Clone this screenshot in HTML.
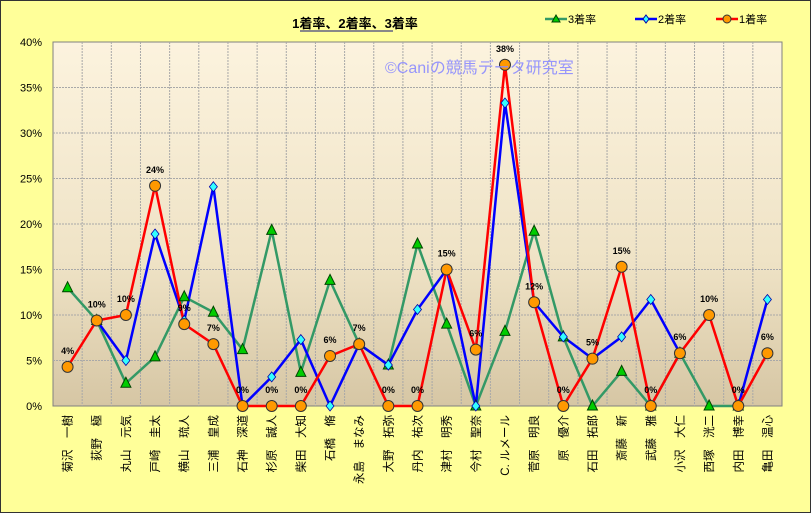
<!DOCTYPE html>
<html><head><meta charset="utf-8"><style>
html,body{margin:0;padding:0;background:#fff}
svg{display:block;font-family:"Liberation Sans","Noto Sans CJK JP",sans-serif}
</style></head><body>
<svg id="c" width="811" height="513" xmlns="http://www.w3.org/2000/svg">
<defs><linearGradient id="g" x1="0" y1="0" x2="0" y2="1"><stop offset="0" stop-color="#FCF3DE"/><stop offset="0.6" stop-color="#EFE3C6"/><stop offset="1" stop-color="#D6C6A4"/></linearGradient></defs>
<rect x="0.5" y="0.5" width="810" height="512" fill="#FFFF99" stroke="#333" stroke-width="1"/>
<rect x="53" y="42" width="729" height="364" fill="url(#g)" stroke="#808080" stroke-width="1"/>
<text x="355" y="28" font-size="13" font-weight="bold" text-anchor="middle" fill="#000">1着率、2着率、3着率</text>
<rect x="300" y="30" width="93" height="2" fill="#888"/>
<g id="lg" font-size="11" fill="#000"></g>
<g id="grid"></g><g id="ser"></g>
<text x="385" y="73" font-size="16" fill="#8C8CFF" opacity="0.9">©Caniの競馬データ研究室</text>
<g id="lab" font-size="9" font-weight="bold" text-anchor="middle" fill="#000"></g>
<g id="ax" font-size="11" fill="#000"></g>
</svg>
<script>
const NS="http://www.w3.org/2000/svg";
function el(p,t,a,txt){const e=document.createElementNS(NS,t);for(const k in a)e.setAttribute(k,a[k]);if(txt!=null)e.textContent=txt;document.getElementById(p).appendChild(e);return e;}
const names=["菊沢　一樹","荻野　極","丸山　元気","戸崎　圭太","横山　琉人","三浦　皇成","石神　深道","杉原　誠人","柴田　大知","石橋　脩","永島　まなみ","大野　拓弥","丹内　祐次","津村　明秀","今村　聖奈","C. ルメール","菅原　明良","原　優介","石田　拓郎","斎藤　新","武藤　雅","小沢　大仁","西塚　洸二","内田　博幸","亀田　温心"];
const N=25,L=53,W=729,T=42,B=406,cw=W/N;
const X=i=>L+cw*(i+.5),Y=v=>B-(B-T)*v/40;
const red=[4.3,9.4,10,24.2,9,6.8,0,0,0,5.5,6.8,0,0,15,6.2,37.5,11.4,0,5.2,15.3,0,5.8,10,0,5.8];
const blue=[null,9.4,5,18.9,9.4,24.1,0,3.2,7.3,0,6.8,4.5,10.6,15,0,33.3,11.4,7.6,5.2,7.6,11.7,5.8,null,0,11.7];
const green=[13,9.4,2.5,5.4,12,10.3,6.2,19.3,3.7,13.8,6.8,4.5,17.8,9,0,8.2,19.2,7.6,0,3.8,0,5.8,0,0,null];
const labs=["4%","10%","10%","24%","9%","7%","0%","0%","0%","6%","7%","0%","0%","15%","6%","38%","12%","0%","5%","15%","0%","6%","10%","0%","6%"];
for(let k=1;k<N;k++){const x=L+cw*k;el("grid","line",{x1:x,x2:x,y1:T,y2:B,stroke:"#A8A8A8","stroke-dasharray":"2,1","stroke-width":1});}
for(let v=0;v<=40;v+=5){const y=Y(v);if(v>0&&v<40)el("grid","line",{x1:L,x2:L+W,y1:y,y2:y,stroke:"#A8A8A8","stroke-dasharray":"2,1"});
 el("ax","text",{x:42,y:y+4,"text-anchor":"end"},v+"%");}
names.forEach((n,i)=>{const x=X(i)+4,y=415;el("ax","text",{x:x,y:y,"text-anchor":"end",transform:`rotate(-90 ${x} ${y})`,"font-size":"11.5"},n);});
function line(d,col,w){let seg=[];const flush=()=>{if(seg.length>1)el("ser","polyline",{points:seg.join(" "),fill:"none",stroke:col,"stroke-width":w});seg=[];};
 d.forEach((v,i)=>{if(v==null)flush();else seg.push(X(i)+","+Y(v));});flush();}
line(green,"#339966",2.5);line(blue,"#0000FF",2.5);line(red,"#FF0000",2.5);
green.forEach((v,i)=>{if(v==null)return;const x=X(i),y=Y(v);el("ser","polygon",{points:`${x},${y-6} ${x-5},${y+4} ${x+5},${y+4}`,fill:"#00CC00",stroke:"#004400","stroke-width":1});});
blue.forEach((v,i)=>{if(v==null)return;const x=X(i),y=Y(v);el("ser","polygon",{points:`${x},${y-5} ${x+4},${y} ${x},${y+5} ${x-4},${y}`,fill:"#33FFFF",stroke:"#0000AA","stroke-width":0.8});});
red.forEach((v,i)=>{const x=X(i),y=Y(v);el("ser","circle",{cx:x,cy:y,r:5.5,fill:"#FF9900",stroke:"#333","stroke-width":1});
 el("lab","text",{x:x,y:y-13},labs[i]);});
[[575,"#339966","tri","3着率"],[665,"#0000FF","dia","2着率"],[746,"#FF0000","cir","1着率"]].forEach(([x,c,m,t])=>{
 el("lg","line",{x1:x-30,x2:x-8,y1:19,y2:19,stroke:c,"stroke-width":2.5});const cx=x-19;
 if(m=="tri")el("lg","polygon",{points:`${cx},${15} ${cx-4},${22} ${cx+4},${22}`,fill:"#00CC00",stroke:"#004400"});
 if(m=="dia")el("lg","polygon",{points:`${cx},${15} ${cx+3},${19} ${cx},${23} ${cx-3},${19}`,fill:"#33FFFF",stroke:"#0000AA"});
 if(m=="cir")el("lg","circle",{cx:cx,cy:19,r:4,fill:"#FF9900",stroke:"#333"});
 el("lg","text",{x:x-7,y:23},t);});
</script>
</body></html>
